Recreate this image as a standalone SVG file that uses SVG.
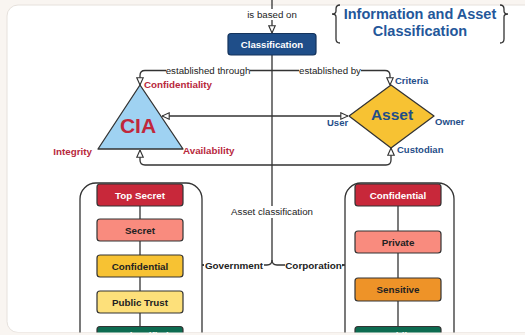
<svg xmlns="http://www.w3.org/2000/svg" width="525" height="335" viewBox="0 0 525 335">
<defs>
<style>
text{font-family:"Liberation Sans",Arial,sans-serif}
.ln{fill:none;stroke:#333;stroke-width:1.3}
.lbl{font-size:9.7px;fill:#222;text-anchor:middle}
.bx{stroke:#333;stroke-width:1.2}
.bt{font-size:9.8px;font-weight:bold;text-anchor:middle;fill:#222}
.wt{fill:#fff}
.red{font-size:9.8px;font-weight:bold;fill:#b8283c}
.blu{font-size:9.5px;font-weight:bold;fill:#1f4e89}
.grp{font-size:9.9px;font-weight:bold;fill:#222;text-anchor:middle}
</style>
<marker id="ar" viewBox="0 0 10 10" refX="10" refY="5" markerUnits="userSpaceOnUse" markerWidth="8" markerHeight="8" orient="auto-start-reverse">
<path d="M1,1 L10,5 L1,9 Z" fill="#fff" stroke="#333" stroke-width="1.4"/>
</marker>
<marker id="sm" viewBox="0 0 10 10" refX="10" refY="5" markerUnits="userSpaceOnUse" markerWidth="3" markerHeight="3" orient="auto">
<path d="M0,0 L10,5 L0,10 Z" fill="#333"/>
</marker>
</defs>
<rect x="0" y="0" width="525" height="335" fill="#f9f5f1"/>
<rect x="7" y="5" width="540" height="327.5" rx="11" fill="#fff" stroke="#e6e1dc" stroke-width="1"/>

<g id="title">
<path class="ln" stroke-width="1.2" d="M340,5 Q336,5 336,9 V11 Q336,14 332,14 Q336,14 336,17 V39 Q336,43 340,43"/>
<path class="ln" stroke-width="1.2" d="M500,5 Q504,5 504,9 V11 Q504,14 508,14 Q504,14 504,17 V39 Q504,43 500,43"/>
<text x="420" y="18.5" font-size="14.5" font-weight="bold" fill="#24579a" text-anchor="middle">Information and Asset</text>
<text x="420" y="35.5" font-size="14.5" font-weight="bold" fill="#24579a" text-anchor="middle">Classification</text>
</g>

<g id="containers">
<rect class="ln" x="80" y="183" width="122" height="200" rx="16"/>
<rect class="ln" x="345" y="183" width="109" height="200" rx="16"/>
</g>

<g id="connectors">
<path class="ln" d="M272,0 V33" marker-end="url(#ar)"/>
<path class="ln" d="M272,55 V260 Q272,265 267,265 H202" marker-end="url(#sm)"/>
<path class="ln" d="M272,260 Q272,265 277,265 H345" marker-end="url(#sm)"/>
<path class="ln" d="M272,70.5 H145 Q140,70.5 140,75.5 V85" marker-end="url(#ar)"/>
<path class="ln" d="M272,70.5 H385 Q390,70.5 390,75.5 V85" marker-end="url(#ar)"/>
<path class="ln" d="M162,116 H348" marker-start="url(#ar)" marker-end="url(#ar)"/>
<path class="ln" d="M140,150 V160 Q140,165 145,165 H386 Q391,165 391,160 V148" marker-start="url(#ar)" marker-end="url(#ar)"/>
<path class="ln" d="M140,206 V326"/>
<path class="ln" d="M398,206 V326"/>
<rect x="245" y="9" width="54" height="11" fill="#fff"/>
<text class="lbl" x="272" y="17.5">is based on</text>
<rect x="166" y="65" width="84" height="11" fill="#fff"/>
<text class="lbl" x="208" y="74">established through</text>
<rect x="299" y="65" width="62" height="11" fill="#fff"/>
<text class="lbl" x="330" y="74">established by</text>
<rect x="229" y="206" width="86" height="12" fill="#fff"/>
<text class="lbl" x="272" y="215">Asset classification</text>
<rect x="204" y="259" width="60" height="12" fill="#fff"/>
<text class="grp" x="234" y="268.5">Government</text>
<rect x="285" y="259" width="57" height="12" fill="#fff"/>
<text class="grp" x="313.5" y="268.5">Corporation</text>
</g>

<g id="classification">
<rect x="228" y="33.5" width="88" height="21.5" rx="3" fill="#1f4e89" stroke="#14335c" stroke-width="1.2"/>
<text x="272" y="47.5" font-size="9.6" font-weight="bold" fill="#fff" text-anchor="middle">Classification</text>
</g>

<g id="cia">
<path d="M140,85 L183,149 L98,149 Z" fill="#9fd2f2" stroke="#333" stroke-width="1.3" stroke-linejoin="round"/>
<text x="138" y="133" font-size="21" font-weight="bold" fill="#c0283c" text-anchor="middle">CIA</text>
<text class="red" x="144" y="88">Confidentiality</text>
<text class="red" x="92" y="155" text-anchor="end">Integrity</text>
<text class="red" x="183" y="154">Availability</text>
</g>

<g id="asset">
<path d="M391,85 L434,116 L391,148 L349,116 Z" fill="#f7c233" stroke="#333" stroke-width="1.3" stroke-linejoin="round"/>
<text x="392" y="119.5" font-size="15.5" font-weight="bold" fill="#1f4e89" text-anchor="middle">Asset</text>
<text class="blu" x="395" y="83.5">Criteria</text>
<text class="blu" x="327" y="125.5">User</text>
<text class="blu" x="435" y="124.5">Owner</text>
<text class="blu" x="397" y="152.5">Custodian</text>
</g>

<g id="gov-top-secret"><rect class="bx" x="97" y="184" width="86" height="22" rx="3" fill="#c8283a"/><text class="bt wt" x="140" y="198.5">Top Secret</text></g>
<g id="gov-secret"><rect class="bx" x="97" y="219" width="86" height="22" rx="3" fill="#f98b7e"/><text class="bt" x="140" y="233.5">Secret</text></g>
<g id="gov-confidential"><rect class="bx" x="97" y="255" width="86" height="22" rx="3" fill="#f7c233"/><text class="bt" x="140" y="269.5">Confidential</text></g>
<g id="gov-public-trust"><rect class="bx" x="97" y="291" width="86" height="22" rx="3" fill="#fde07a"/><text class="bt" x="140" y="305.5">Public Trust</text></g>
<g id="gov-unclassified"><rect class="bx" x="97" y="326.5" width="86" height="22" rx="3" fill="#0d6b50"/><text class="bt wt" x="140" y="338.8">Unclassified</text></g>

<g id="corp-confidential"><rect class="bx" x="355" y="184" width="86" height="22" rx="3" fill="#c8283a"/><text class="bt wt" x="398" y="198.5">Confidential</text></g>
<g id="corp-private"><rect class="bx" x="355" y="231" width="86" height="22" rx="3" fill="#f98b7e"/><text class="bt" x="398" y="245.5">Private</text></g>
<g id="corp-sensitive"><rect class="bx" x="355" y="278" width="86" height="23" rx="3" fill="#ee9328"/><text class="bt" x="398" y="293">Sensitive</text></g>
<g id="corp-public"><rect class="bx" x="355" y="326.5" width="86" height="22" rx="3" fill="#0d6b50"/><text class="bt wt" x="398" y="338.8">Public</text></g>

<rect x="0" y="332.5" width="525" height="3" fill="#f9f5f1"/>
</svg>
